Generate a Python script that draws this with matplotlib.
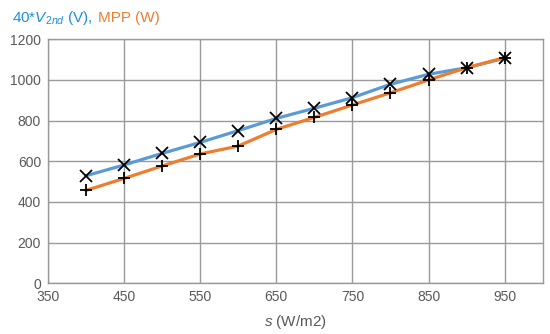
import matplotlib
matplotlib.use("Agg")
import matplotlib.pyplot as plt
from matplotlib.ticker import MultipleLocator

plt.rcParams['font.family'] = ['Liberation Sans', 'DejaVu Sans']
plt.rcParams['mathtext.fontset'] = 'custom'
plt.rcParams['mathtext.rm'] = 'Liberation Sans'
plt.rcParams['mathtext.it'] = 'Liberation Sans:italic'

# --- data ---
irradiance = [400, 450, 500, 550, 600, 650, 700, 750, 800, 850, 900, 950]
v2nd_x40 = [529, 582, 639, 693, 751, 811, 861, 913, 979, 1028, 1060, 1107]
mpp_power = [457, 516, 577, 636, 675, 757, 816, 877, 937, 1000, 1060, 1110]

blue = "#5B9BD5"
orange = "#ED7D31"
grid_col = "#9A9A9A"
text_col = "#595959"

fig = plt.figure(figsize=(5.5, 3.34), dpi=100)
ax = fig.add_axes([0.0873, 0.1518, 0.8994, 0.7305])

ax.plot(irradiance, v2nd_x40, "-", color=blue, lw=2.3, zorder=3)
ax.plot(irradiance, mpp_power, "-", color=orange, lw=2.3, zorder=3)
ax.plot(irradiance, v2nd_x40, "x", color="black", ms=8, mew=1.3, ls="none", zorder=4)
ax.plot(irradiance, mpp_power, "+", color="black", ms=9, mew=1.3, ls="none", zorder=4)

ax.set_xlim(350, 1000)
ax.set_ylim(0, 1200)
ax.set_xticks(range(350, 1000, 100))
ax.yaxis.set_major_locator(MultipleLocator(200))
ax.grid(True, color=grid_col, lw=1.0)
ax.set_axisbelow(True)
for sp in ax.spines.values():
    sp.set_color(grid_col)
    sp.set_linewidth(1.0)
ax.tick_params(length=0, labelsize=10, colors=text_col, pad=5)

ax.set_xlabel(r"$\mathit{s}$ (W/m2)", fontsize=11, color=text_col, labelpad=6)

# two-coloured title
fig.canvas.draw()
renderer = fig.canvas.get_renderer()
t1 = fig.text(0.022, 0.935, r"40*$\mathit{V}_{\mathit{2nd}}$ (V),", fontsize=11,
              color="#1E8FD8", va="baseline")
bb = t1.get_window_extent(renderer)
x2 = (bb.x1 + 5) / fig.bbox.width
fig.text(x2, 0.935, "MPP (W)", fontsize=11, color=orange, va="baseline")

fig.savefig("out.png", dpi=100)
